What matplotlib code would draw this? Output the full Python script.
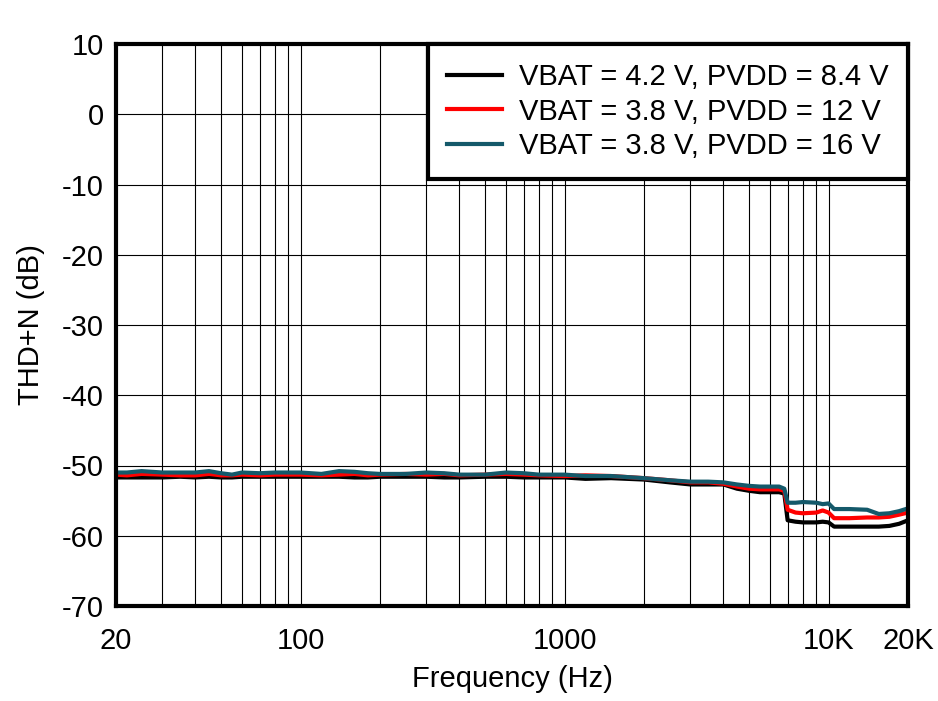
"""THD+N vs frequency for three VBAT / PVDD supply combinations."""

import matplotlib
matplotlib.use("Agg")
import matplotlib.pyplot as plt
from matplotlib.ticker import FixedLocator, LogLocator, NullFormatter

matplotlib.rcParams.update({
    "font.family": ["Liberation Sans", "DejaVu Sans"],
    "font.size": 21,
    "axes.unicode_minus": False,
})

# ---------------- data ----------------
freq_hz = [20, 22, 25, 30, 35, 40, 45, 50, 55, 60, 70, 80, 90, 100, 120, 140,
           160, 180, 200, 250, 300, 350, 400, 500, 600, 700, 800, 1000, 1200,
           1500, 2000, 2500, 3000, 3500, 4000, 4500, 5000, 5500, 6000, 6500,
           6800, 7000, 7500, 8000, 9000, 9500, 10000, 10500, 12000, 14000,
           15500, 17000, 18500, 20000]

thdn_42v_84v = [-51.7, -51.7, -51.7, -51.7, -51.6, -51.7, -51.6, -51.7, -51.7,
                -51.6, -51.6, -51.6, -51.6, -51.6, -51.6, -51.6, -51.7, -51.7,
                -51.6, -51.6, -51.6, -51.7, -51.7, -51.6, -51.6, -51.7, -51.7,
                -51.7, -51.9, -51.8, -52.0, -52.4, -52.7, -52.7, -52.7, -53.3,
                -53.6, -53.8, -53.8, -53.8, -54.0, -57.8, -58.0, -58.1, -58.1,
                -58.0, -58.1, -58.7, -58.7, -58.7, -58.7, -58.6, -58.3, -57.8]

thdn_38v_12v = [-51.3, -51.4, -51.2, -51.3, -51.4, -51.4, -51.2, -51.4, -51.4,
                -51.3, -51.4, -51.3, -51.3, -51.3, -51.4, -51.3, -51.2, -51.4,
                -51.3, -51.2, -51.3, -51.2, -51.4, -51.3, -51.2, -51.3, -51.4,
                -51.5, -51.4, -51.5, -51.8, -52.1, -52.4, -52.4, -52.6, -53.0,
                -53.3, -53.4, -53.4, -53.4, -53.6, -56.3, -56.7, -56.8, -56.7,
                -56.4, -56.7, -57.5, -57.5, -57.4, -57.4, -57.3, -57.0, -56.7]

thdn_38v_16v = [-51.0, -51.0, -50.8, -51.0, -51.0, -51.0, -50.8, -51.1, -51.3,
                -51.0, -51.1, -51.0, -51.0, -51.0, -51.2, -50.8, -50.9, -51.1,
                -51.2, -51.2, -51.0, -51.1, -51.3, -51.3, -51.0, -51.1, -51.3,
                -51.3, -51.5, -51.5, -51.8, -52.1, -52.3, -52.3, -52.4, -52.7,
                -52.9, -53.0, -53.0, -53.0, -53.3, -55.3, -55.3, -55.2, -55.3,
                -55.5, -55.4, -56.2, -56.2, -56.3, -56.9, -56.8, -56.5, -56.1]

series_labels = ["VBAT = 4.2 V, PVDD = 8.4 V",
                 "VBAT = 3.8 V, PVDD = 12 V",
                 "VBAT = 3.8 V, PVDD = 16 V"]
series_colors = ["#000000", "#ff0000", "#14596a"]

x_ticks = [20, 100, 1000, 10000, 20000]
x_tick_labels = ["20", "100", "1000", "10K", "20K"]
y_ticks = list(range(-70, 11, 10))
# --------------------------------------------------------------

fig = plt.figure(figsize=(9.38, 7.01), dpi=100)
ax = fig.add_axes([116 / 938, 1 - 606 / 701, (908 - 116) / 938, (606 - 44) / 701])

for vals, lab, col in zip([thdn_42v_84v, thdn_38v_12v, thdn_38v_16v],
                          series_labels, series_colors):
    ax.plot(freq_hz, vals, color=col, lw=3, label=lab, zorder=3)

ax.set_xscale("log")
ax.set_xlim(20, 20000)
ax.set_ylim(-70, 10)

ax.xaxis.set_major_locator(FixedLocator(x_ticks))
ax.set_xticklabels(x_tick_labels)
ax.xaxis.set_minor_locator(LogLocator(base=10, subs=range(2, 10)))
ax.xaxis.set_minor_formatter(NullFormatter())
ax.set_yticks(y_ticks)

ax.tick_params(axis="both", which="both", length=0)
ax.tick_params(axis="x", pad=15)
ax.tick_params(axis="y", pad=9)

ax.grid(True, which="major", color="black", lw=0.8)
ax.grid(True, which="minor", axis="x", color="black", lw=0.8)
for sp in ax.spines.values():
    sp.set_linewidth(3)
    sp.set_zorder(4)

ax.set_xlabel("Frequency (Hz)", labelpad=7)
ax.set_ylabel("THD+N (dB)", labelpad=12)

leg = ax.legend(loc="upper right", borderaxespad=0, fancybox=False,
                framealpha=1, edgecolor="black", handlelength=1.88,
                handletextpad=0.58, labelspacing=0.22, borderpad=0.66,
                fontsize=21)
leg.get_frame().set_linewidth(3)
leg.set_zorder(5)

fig.savefig("out.png", dpi=100)
